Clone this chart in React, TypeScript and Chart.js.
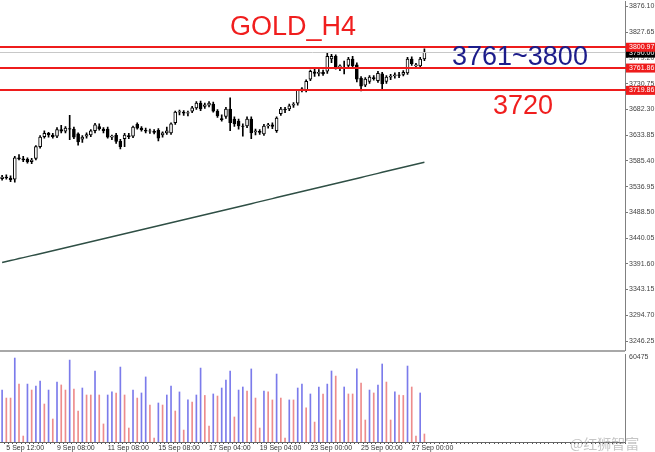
import React, { useEffect, useRef } from "react";
import { Chart, registerables } from "chart.js";

Chart.register(...registerables);

// ---------------- data ----------------
const SLOTS = 148;

const OPEN = [
  3552, 3555, 3553, 3551, 3591, 3589, 3588, 3584, 3590, 3612,
  3631, 3637, 3634, 3632, 3644, 3641, 3646, 3645, 3636, 3626,
  3632, 3634, 3642, 3650, 3645, 3645, 3630, 3634, 3622, 3627,
  3633, 3632, 3654, 3647, 3643, 3641, 3641, 3643, 3634, 3638,
  3638, 3657, 3677, 3677, 3675, 3679, 3685, 3694, 3688, 3690,
  3692, 3679, 3665, 3669, 3683, 3664, 3660, 3651, 3651, 3664,
  3640, 3641, 3636, 3651, 3653, 3642, 3674, 3683, 3683, 3690,
  3694, 3718, 3718, 3739, 3753, 3750, 3752, 3754, 3777, 3782,
  3762, 3761, 3765, 3777, 3766, 3741, 3728, 3735, 3742, 3736,
  3749, 3735, 3743, 3745, 3747, 3748, 3751, 3777, 3764, 3764,
  3777,
];
const HIGH = [
  3558, 3559, 3557, 3594, 3597, 3594, 3591, 3590, 3614, 3633,
  3642, 3639, 3637, 3648, 3652, 3650, 3671, 3649, 3638, 3633,
  3638, 3644, 3656, 3655, 3648, 3649, 3634, 3637, 3626, 3637,
  3637, 3651, 3657, 3650, 3647, 3645, 3644, 3646, 3640, 3649,
  3657, 3679, 3681, 3680, 3679, 3688, 3697, 3698, 3694, 3697,
  3696, 3682, 3672, 3686, 3704, 3668, 3664, 3655, 3668, 3668,
  3645, 3644, 3654, 3656, 3657, 3668, 3686, 3686, 3692, 3695,
  3720, 3723, 3738, 3756, 3758, 3757, 3756, 3788, 3786, 3785,
  3766, 3773, 3780, 3782, 3770, 3744, 3742, 3746, 3746, 3754,
  3752, 3746, 3748, 3751, 3752, 3755, 3780, 3781, 3769, 3780,
  3796,
];
const LOW = [
  3549, 3551, 3546, 3545, 3587, 3584, 3581, 3580, 3587, 3609,
  3628, 3630, 3628, 3629, 3638, 3638, 3625, 3627, 3615, 3620,
  3628, 3631, 3638, 3643, 3638, 3628, 3625, 3618, 3608, 3612,
  3627, 3629, 3645, 3641, 3638, 3637, 3636, 3623, 3630, 3635,
  3635, 3654, 3672, 3671, 3670, 3676, 3682, 3680, 3684, 3687,
  3677, 3667, 3660, 3665, 3642, 3650, 3645, 3632, 3648, 3627,
  3634, 3635, 3633, 3647, 3646, 3639, 3671, 3676, 3680, 3686,
  3690, 3715, 3715, 3736, 3744, 3745, 3746, 3750, 3770, 3758,
  3755, 3749, 3761, 3760, 3734, 3717, 3725, 3731, 3737, 3733,
  3720, 3731, 3738, 3741, 3742, 3745, 3748, 3765, 3760, 3761,
  3774,
];
const CLOSE = [
  3555, 3553, 3550, 3591, 3589, 3587, 3584, 3587, 3612, 3630,
  3637, 3634, 3631, 3644, 3641, 3647, 3645, 3630, 3621, 3630,
  3635, 3642, 3653, 3646, 3642, 3630, 3632, 3622, 3612, 3634,
  3631, 3649, 3647, 3644, 3641, 3642, 3639, 3628, 3638, 3642,
  3655, 3677, 3678, 3675, 3676, 3685, 3694, 3683, 3691, 3694,
  3679, 3670, 3663, 3683, 3657, 3655, 3651, 3650, 3664, 3638,
  3642, 3639, 3651, 3653, 3650, 3666, 3683, 3681, 3689, 3692,
  3718, 3721, 3735, 3754, 3750, 3752, 3749, 3782, 3782, 3762,
  3764, 3759, 3777, 3764, 3739, 3726, 3739, 3743, 3740, 3750,
  3730, 3743, 3745, 3747, 3746, 3752, 3777, 3768, 3766, 3777,
  3790,
];
const VOLUME = [
  35700, 30200, 30200, 57700, 39800, 4100, 39800, 35700, 38500, 41900,
  26100, 35700, 15800, 41200, 39200, 35700, 56300, 36400, 21300, 37100,
  32300, 32300, 48800, 32300, 12400, 32300, 34400, 33700, 51500, 32300,
  9600, 35700, 30200, 33700, 44700, 25400, 2700, 26800, 25400, 32300,
  38500, 21300, 34400, 8200, 28900, 27500, 32300, 50800, 32000, 11000,
  33000, 31600, 37100, 42600, 48800, 17200, 35700, 37800, 35000, 50200,
  30200, 9600, 35000, 34400, 28900, 46700, 30200, 2700, 28900, 28900,
  37100, 39800, 23400, 33000, 13700, 37800, 33000, 39800, 48800, 45300,
  15100, 37800, 33000, 33000, 50200, 40500, 15100, 35700, 33700, 39200,
  53600, 41200, 15100, 34400, 32300, 32000, 52200, 37800, 4100, 33700,
  5500,
];
const MA = [
  3394.0, 3395.8, 3397.7, 3399.5, 3401.4, 3403.2, 3405.1, 3407.0, 3408.8, 3410.7,
  3412.6, 3414.4, 3416.3, 3418.2, 3420.0, 3421.9, 3423.8, 3425.7, 3427.5, 3429.4,
  3431.3, 3433.2, 3435.0, 3436.9, 3438.8, 3440.7, 3442.6, 3444.4, 3446.3, 3448.2,
  3450.1, 3452.0, 3453.8, 3455.7, 3457.6, 3459.5, 3461.4, 3463.2, 3465.1, 3467.0,
  3468.9, 3470.8, 3472.7, 3474.6, 3476.4, 3478.3, 3480.2, 3482.1, 3484.0, 3485.9,
  3487.8, 3489.7, 3491.6, 3493.4, 3495.3, 3497.2, 3499.1, 3501.0, 3502.9, 3504.8,
  3506.7, 3508.6, 3510.5, 3512.4, 3514.3, 3516.2, 3518.1, 3520.0, 3521.9, 3523.8,
  3525.7, 3527.6, 3529.5, 3531.4, 3533.3, 3535.2, 3537.1, 3539.0, 3540.9, 3542.8,
  3544.7, 3546.6, 3548.5, 3550.4, 3552.3, 3554.2, 3556.1, 3558.0, 3559.9, 3561.8,
  3563.7, 3565.6, 3567.5, 3569.4, 3571.3, 3573.2, 3575.1, 3577.0, 3578.9, 3580.8,
  3582.7,
];
const PRICE_TICKS = [
  3876.1, 3827.65, 3779.2, 3730.75, 3682.3, 3633.85, 3585.4,
  3536.95, 3488.5, 3440.05, 3391.6, 3343.15, 3294.7, 3246.25,
];
const LEVELS = [3800.97, 3761.86, 3719.86];
const VOLUME_TICK = 60475;
const TIME_LABELS = [
  "5 Sep 12:00", "9 Sep 08:00", "11 Sep 08:00", "15 Sep 08:00", "17 Sep 04:00",
  "19 Sep 04:00", "23 Sep 00:00", "25 Sep 00:00", "27 Sep 00:00",
];
const TIME_LABEL_BARS = [1, 13, 25, 37, 49, 61, 73, 85, 97];

const AXIS_FONT = "Liberation Sans";

export default function App() {
  const priceRef = useRef<HTMLCanvasElement>(null);
  const volRef = useRef<HTMLCanvasElement>(null);

  useEffect(() => {
    document.body.style.margin = "0";
    const N = CLOSE.length;
    const labels = Array.from({ length: SLOTS }, (_, i) => String(i));
    const wick = labels.map((_, i) => (i < N ? [LOW[i], HIGH[i]] : null));
    const body = labels.map((_, i) =>
      i < N ? [Math.min(OPEN[i], CLOSE[i]), Math.max(OPEN[i], CLOSE[i])] : null
    );
    const bodyFill = labels.map((_, i) =>
      i < N && CLOSE[i] >= OPEN[i] ? "#ffffff" : "#000000"
    );
    const ma = labels.map((_, i) => (i < N ? MA[i] : null));
    const bid = CLOSE[N - 1];

    const levelPlugin = {
      id: "levels",
      afterDatasetsDraw(chart: any) {
        const { ctx, chartArea } = chart;
        const y = chart.scales.y;
        ctx.save();
        ctx.strokeStyle = "#c8c8c8";
        ctx.lineWidth = 1;
        const by = Math.round(y.getPixelForValue(bid)) + 0.5;
        ctx.beginPath();
        ctx.moveTo(chartArea.left, by);
        ctx.lineTo(chartArea.right, by);
        ctx.stroke();
        ctx.strokeStyle = "#ee1c1c";
        ctx.lineWidth = 2;
        LEVELS.forEach((lv) => {
          const py = Math.round(y.getPixelForValue(lv)) + 1;
          ctx.beginPath();
          ctx.moveTo(chartArea.left, py);
          ctx.lineTo(chartArea.right + 2, py);
          ctx.stroke();
        });
        ctx.restore();
      },
      afterDraw(chart: any) {
        const { ctx, chartArea } = chart;
        const y = chart.scales.y;
        const x0 = chartArea.right + 1;
        const w = 30;
        ctx.save();
        ctx.font = `7px ${AXIS_FONT}`;
        ctx.textBaseline = "middle";
        const box = (val: number, bg: string) => {
          const py = y.getPixelForValue(val) + 1;
          ctx.fillStyle = bg;
          ctx.fillRect(x0, py - 4.5, w, 9);
          ctx.fillStyle = "#ffffff";
          ctx.fillText(val.toFixed(2), x0 + 3, py);
        };
        box(bid, "#000000");
        LEVELS.forEach((lv) => box(lv, "#ee1c1c"));
        ctx.restore();
      },
    };

    const price = new Chart(priceRef.current!, {
      type: "bar",
      data: {
        labels,
        datasets: [
          {
            type: "bar",
            data: body as any,
            backgroundColor: bodyFill,
            borderColor: "#000000",
            borderWidth: 1,
            borderSkipped: false,
            barThickness: 3,
            grouped: false,
            order: 0,
          },
          {
            type: "bar",
            data: wick as any,
            backgroundColor: "#000000",
            borderWidth: 0,
            barThickness: 1,
            grouped: false,
            order: 1,
          },
          {
            type: "line",
            data: ma as any,
            borderColor: "#2f4f45",
            borderWidth: 1.5,
            pointRadius: 0,
            fill: false,
            spanGaps: false,
            order: 2,
          },
        ],
      },
      options: {
        animation: false,
        responsive: false,
        maintainAspectRatio: false,
        layout: { padding: { left: 0, right: 0, top: 0, bottom: 2 }, autoPadding: false },
        plugins: { legend: { display: false }, tooltip: { enabled: false } },
        scales: {
          x: { display: false, offset: true },
          y: {
            position: "right",
            min: 3229.4,
            max: 3885.5,
            afterBuildTicks: (s: any) => {
              s.ticks = PRICE_TICKS.map((v) => ({ value: v }));
            },
            afterFit: (s: any) => {
              s.width = 30;
            },
            grid: { drawOnChartArea: false, drawTicks: true, tickLength: 3, color: "#777" },
            border: { display: true, color: "#808080" },
            ticks: {
              padding: 1,
              color: "#444",
              font: { family: AXIS_FONT, size: 7, lineHeight: 0.1 },
              callback: (v: any) => Number(v).toFixed(2),
            },
          },
        },
      },
      plugins: [levelPlugin],
    } as any);

    const volColors = VOLUME.map((v, i) =>
      i === 0 || v > VOLUME[i - 1] ? "rgba(100,100,232,0.85)" : "rgba(234,120,120,0.85)"
    );
    const vol = new Chart(volRef.current!, {
      type: "bar",
      data: {
        labels,
        datasets: [
          {
            data: labels.map((_, i) => (i < N ? VOLUME[i] : null)) as any,
            backgroundColor: labels.map((_, i) => (i < N ? volColors[i] : "transparent")),
            borderWidth: 0,
            barThickness: 1,
          },
        ],
      },
      options: {
        animation: false,
        responsive: false,
        maintainAspectRatio: false,
        layout: { padding: { left: 0, right: 0, top: 10, bottom: 0 }, autoPadding: false },
        plugins: { legend: { display: false }, tooltip: { enabled: false } },
        scales: {
          x: {
            offset: true,
            afterFit: (s: any) => {
              s.height = 10;
            },
            grid: { drawOnChartArea: false, drawTicks: true, tickLength: 2, color: "#555" },
            border: { display: true, color: "#666" },
            ticks: {
              autoSkip: false,
              maxRotation: 0,
              minRotation: 0,
              align: "start",
              padding: 0,
              color: "#333",
              font: { family: AXIS_FONT, size: 7 },
              callback: (_v: any, idx: number) => {
                const k = TIME_LABEL_BARS.indexOf(idx);
                return k >= 0 ? TIME_LABELS[k] : "";
              },
            },
          },
          y: {
            position: "right",
            min: 0,
            max: VOLUME_TICK,
            afterBuildTicks: (s: any) => {
              s.ticks = [{ value: VOLUME_TICK }];
            },
            afterFit: (s: any) => {
              s.width = 30;
            },
            grid: { drawOnChartArea: false, drawTicks: false },
            border: { display: true, color: "#808080" },
            ticks: {
              padding: 4,
              labelOffset: 3,
              color: "#444",
              font: { family: AXIS_FONT, size: 7 },
              callback: (v: any) => String(v),
            },
          },
        },
      },
    } as any);

    return () => {
      price.destroy();
      vol.destroy();
    };
  }, []);

  const textBase: React.CSSProperties = {
    position: "absolute",
    fontFamily: "'Liberation Sans', Arial, sans-serif",
    lineHeight: 1,
    whiteSpace: "nowrap",
    margin: 0,
  };

  return (
    <div
      style={{
        position: "fixed",
        left: 0,
        top: 0,
        width: 655,
        height: 452,
        background: "#ffffff",
        overflow: "hidden",
      }}
    >
      <canvas
        ref={priceRef}
        width={655}
        height={352}
        style={{ position: "absolute", left: 0, top: 0, width: 655, height: 352 }}
      />
      <div
        style={{ position: "absolute", left: 0, top: 350, width: 625, height: 2, background: "#a8a8a8" }}
      />
      <canvas
        ref={volRef}
        width={655}
        height={108}
        style={{ position: "absolute", left: 0, top: 344, width: 655, height: 108 }}
      />
      <div style={{ ...textBase, left: 230, top: 13, fontSize: 27, color: "#f01e1e" }}>GOLD_H4</div>
      <div style={{ ...textBase, left: 452, top: 43, fontSize: 27, color: "#1c1c8a" }}>3761~3800</div>
      <div style={{ ...textBase, left: 493, top: 92, fontSize: 27, color: "#f01e1e" }}>3720</div>
      <div
        style={{
          ...textBase,
          left: 570,
          top: 436,
          fontSize: 14,
          color: "rgba(150,150,150,0.55)",
          fontFamily: "'Noto Sans CJK SC', sans-serif",
        }}
      >
        @红狮智富
      </div>
    </div>
  );
}
